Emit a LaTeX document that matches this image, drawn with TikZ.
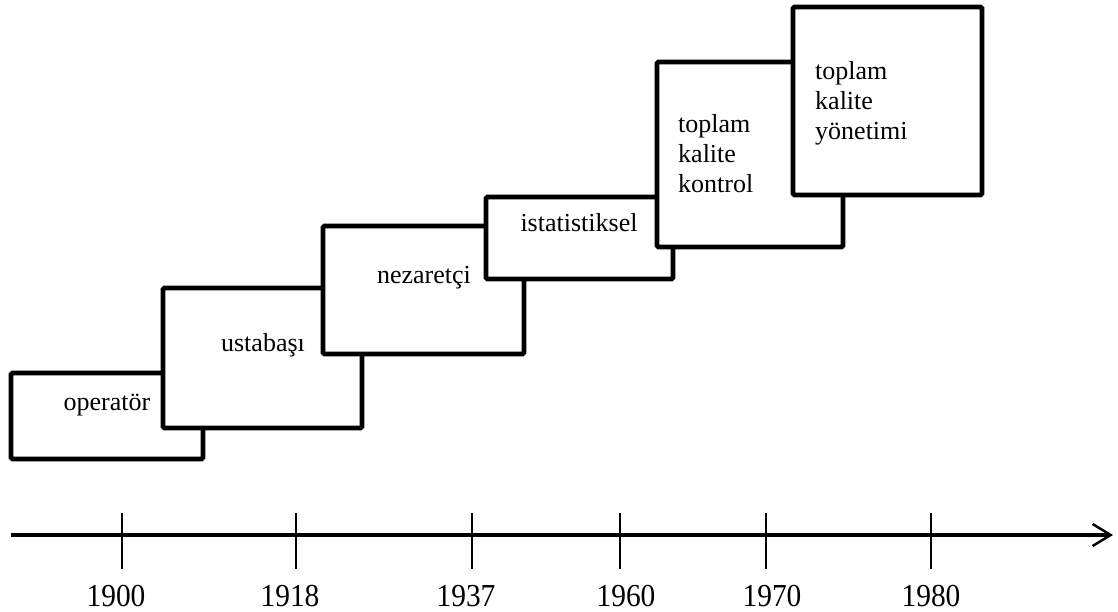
\documentclass[tikz,border=0pt]{standalone}
\usepackage{fontspec}
\setmainfont{Liberation Serif}
\usetikzlibrary{arrows.meta}
% a left-aligned stack of lines whose baseline is that of its first line
\newcommand{\linestack}[1]{\vtop{\halign{##\hfil\cr#1\crcr}}}
\begin{document}
\begin{tikzpicture}[x=1pt,y=-1pt,
  era/.style={draw=black, line width=4.8pt, fill=white, rounded corners=1.5pt},
  eratext/.style={inner sep=0pt, anchor=base, font=\fontsize{26}{30}\selectfont},
  erastack/.style={inner sep=0pt, anchor=base west, font=\fontsize{26}{30}\selectfont},
  timeaxis/.style={line width=3.3pt, -{Straight Barb[length=18pt,width=22pt,line width=2.5pt]}},
  tick/.style={line width=1.8pt},
  year/.style={inner sep=0pt, anchor=base, xscale=0.92, font=\fontsize{32}{36}\selectfont}]
\useasboundingbox (0,0) rectangle (1118,612);

% stepped quality eras, each drawn over the previous one
\draw[era] (11,373) rectangle (203,459);
\node[eratext] (operator) at (107,410) {operatör};

\draw[era] (163,288) rectangle (362,428);
\node[eratext] (ustabasi) at (263,351) {ustabaşı};

\draw[era] (323,226) rectangle (524,354);
\node[eratext] (nezaretci) at (424,283) {nezaretçi};

\draw[era] (486,197) rectangle (673,279);
\node[eratext] (istatistiksel) at (579,232) {istatistiksel};

\draw[era] (657,62) rectangle (843,247);
\node[erastack] (tkk) at (678,133) {\linestack{toplam\cr kalite\cr kontrol}};

\draw[era] (793,7) rectangle (982,195);
\node[erastack] (tky) at (815,80) {\linestack{toplam\cr kalite\cr yönetimi}};

% time axis
\coordinate (axstart) at (11,535);
\coordinate (axend) at (1113,535);
\draw[timeaxis] (axstart) -- (axend);

% ticks and their year labels (label x given separately)
\foreach \x/\lx/\yr in {122/116/1900, 296/290/1918, 472/466/1937, 620/626/1960, 766/772/1970, 931/931/1980} {
  \draw[tick] (\x,513) -- (\x,569);
  \node[year] (y\yr) at (\lx,606) {\yr};
}
\end{tikzpicture}
\end{document}
